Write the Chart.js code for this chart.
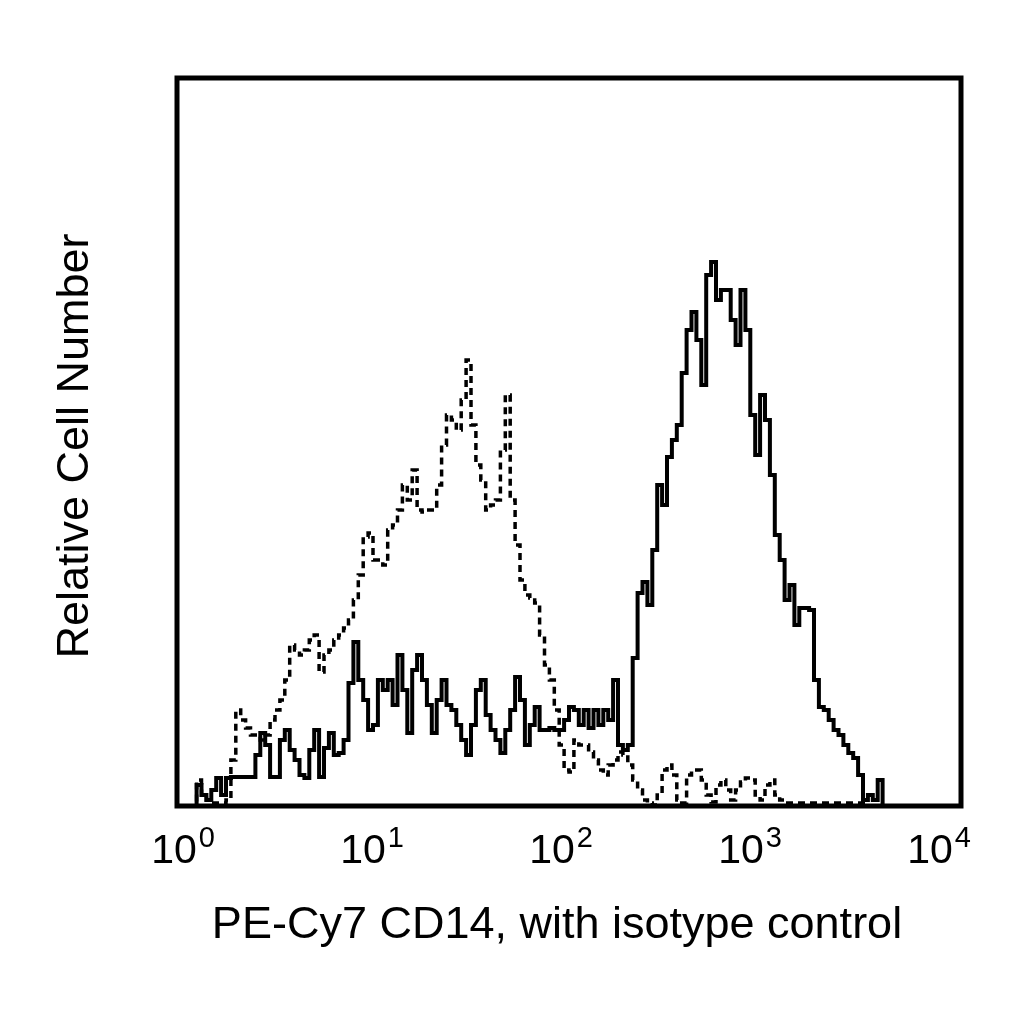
<!DOCTYPE html>
<html>
<head>
<meta charset="utf-8">
<script src="https://cdn.jsdelivr.net/npm/chart.js@4.4.1/dist/chart.umd.min.js"></script>
<style>
  html, body { margin: 0; padding: 0; background: #fff; }
  canvas { display: block; }
</style>
</head>
<body>
<canvas id="histogram" width="1024" height="1024"></canvas>
<script>
// Histogram channels: 40 bins per decade, 10^0 .. 10^4
const BINS_PER_DECADE = 40;
const tickValues = [1, 10, 100, 1000, 10000];
const tickExponents = ['0', '1', '2', '3', '4'];

// PE-Cy7 CD14 stained cells (solid line)
const cd14Counts = [
    0, 0, 0, 0, 21, 11, 6, 16, 28, 11,
    28, 29, 29, 29, 29, 29, 51, 73, 61, 29,
    29, 66, 76, 56, 46, 31, 28, 56, 76, 29,
    58, 73, 51, 53, 66, 123, 164, 126, 106, 76,
    81, 126, 116, 126, 101, 151, 116, 73, 136, 151,
    126, 101, 73, 106, 126, 101, 96, 81, 66, 51,
    81, 116, 126, 91, 76, 66, 53, 76, 96, 129,
    106, 61, 81, 99, 76, 76, 78, 76, 76, 86,
    99, 96, 81, 96, 78, 96, 81, 96, 86, 126,
    61, 56, 61, 148, 213, 224, 201, 256, 321, 301,
    349, 366, 381, 433, 476, 494, 466, 421, 531, 544,
    506, 516, 516, 486, 461, 516, 476, 391, 351, 411,
    386, 331, 271, 246, 206, 221, 181, 198, 198, 196,
    126, 99, 96, 86, 76, 71, 61, 53, 48, 31,
    6, 11, 6, 26, 0, 0, 0, 0, 0, 0,
    0, 0, 0, 0, 0, 0, 0, 0, 0, 0
];

// Isotype control (dashed line)
const isotypeCounts = [
    0, 0, 0, 0, 26, 11, 6, 3, 3, 3,
    6, 46, 96, 86, 78, 71, 71, 66, 71, 86,
    96, 106, 126, 161, 156, 151, 156, 166, 171, 134,
    151, 156, 166, 171, 178, 186, 206, 231, 269, 273,
    246, 246, 241, 276, 281, 296, 321, 306, 336, 296,
    294, 296, 296, 321, 361, 391, 386, 376, 406, 446,
    381, 341, 326, 296, 301, 306, 356, 411, 306, 261,
    226, 211, 208, 203, 171, 141, 126, 96, 61, 36,
    34, 66, 61, 61, 54, 46, 36, 31, 41, 46,
    54, 51, 41, 26, 16, 6, 3, 1, 11, 36,
    41, 31, 6, 3, 31, 36, 36, 26, 11, 4,
    21, 26, 16, 6, 16, 24, 28, 26, 11, 6,
    21, 26, 11, 6, 3, 3, 3, 3, 3, 3,
    3, 3, 3, 3, 3, 3, 3, 3, 3, 3,
    3, 0, 0, 0, 0, 0, 0, 0, 0, 0,
    0, 0, 0, 0, 0, 0, 0, 0, 0, 0
];

const xTitle = 'PE-Cy7 CD14, with isotype control';
const yTitle = 'Relative Cell Number';

// bin left edges -> points; last point closes the final bin
function toSteps(counts) {
    const pts = counts.map((c, i) => ({ x: Math.pow(10, i / BINS_PER_DECADE), y: c }));
    pts.push({ x: Math.pow(10, counts.length / BINS_PER_DECADE), y: counts[counts.length - 1] });
    return pts;
}

const FONT = '"Liberation Sans", Arial, sans-serif';

// frame, tick labels (10^n) and axis titles
const decorations = {
    id: 'decorations',
    afterDraw(chart) {
        const { ctx, chartArea: a, scales } = chart;
        ctx.save();
        ctx.strokeStyle = '#000';
        ctx.lineWidth = 5;
        ctx.strokeRect(a.left, a.top, a.right - a.left, a.bottom - a.top);

        ctx.fillStyle = '#000';
        ctx.textBaseline = 'alphabetic';
        ctx.textAlign = 'left';
        tickValues.forEach((v, i) => {
            // labels in the original sit a little tighter than the ticks
            const px = scales.x.getPixelForValue(v) + 6 - 7 * i;
            ctx.font = '41px ' + FONT;
            const wBase = ctx.measureText('10').width;
            ctx.font = '29px ' + FONT;
            const wExp = ctx.measureText(tickExponents[i]).width;
            const start = px - (wBase + 2 + wExp) / 2;
            ctx.font = '41px ' + FONT;
            ctx.fillText('10', start, 863);
            ctx.font = '29px ' + FONT;
            ctx.fillText(tickExponents[i], start + wBase + 2, 847);
        });

        ctx.font = '45px ' + FONT;
        ctx.textAlign = 'center';
        ctx.fillText(xTitle, 557, 938);

        ctx.translate(88, (a.top + a.bottom) / 2 + 4);
        ctx.rotate(-Math.PI / 2);
        ctx.fillText(yTitle, 0, 0);
        ctx.restore();
    }
};

new Chart(document.getElementById('histogram'), {
    type: 'line',
    data: {
        datasets: [
            {
                label: 'Isotype control',
                data: toSteps(isotypeCounts),
                borderColor: '#000',
                borderWidth: 3.5,
                borderDash: [7, 5],
                stepped: 'before',
                pointRadius: 0,
                fill: false
            },
            {
                label: 'PE-Cy7 CD14',
                data: toSteps(cd14Counts),
                borderColor: '#000',
                borderWidth: 4,
                stepped: 'before',
                pointRadius: 0,
                fill: false
            }
        ]
    },
    options: {
        responsive: false,
        animation: false,
        layout: {
            padding: { left: 177, right: 63, top: 78, bottom: 218 }
        },
        plugins: {
            legend: { display: false },
            tooltip: { enabled: false }
        },
        scales: {
            x: {
                type: 'logarithmic',
                min: 1,
                max: 10000,
                display: false
            },
            y: {
                min: 0,
                max: 728,
                display: false
            }
        }
    },
    plugins: [decorations]
});
</script>
</body>
</html>
